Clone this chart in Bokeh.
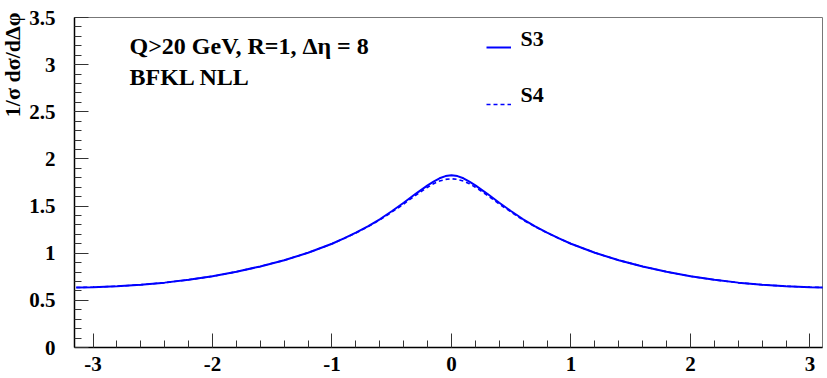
import math
from bokeh.plotting import figure
from bokeh.models import FixedTicker, Label, Legend, LegendItem, Range1d
from bokeh.embed import file_html
from bokeh.resources import INLINE

# ---- data ----
dphi = [-3.14, -3.0, -2.8, -2.6, -2.4, -2.2, -2.0, -1.8, -1.6, -1.4, -1.2, -1.0, -0.9, -0.8,
        -0.7, -0.6, -0.5, -0.4, -0.3, -0.2, -0.15, -0.1, -0.05, 0.0, 0.05, 0.1, 0.15, 0.2,
        0.3, 0.4, 0.5, 0.6, 0.7, 0.8, 0.9, 1.0, 1.2, 1.4, 1.6, 1.8, 2.0, 2.2, 2.4, 2.6,
        2.8, 3.0, 3.14]
s3 = [0.636, 0.640, 0.650, 0.665, 0.688, 0.718, 0.755, 0.803, 0.860, 0.925, 1.005, 1.100, 1.157, 1.218,
      1.285, 1.360, 1.445, 1.535, 1.630, 1.720, 1.760, 1.795, 1.818, 1.827, 1.818, 1.795, 1.760, 1.720,
      1.630, 1.535, 1.445, 1.360, 1.285, 1.218, 1.157, 1.100, 1.005, 0.925, 0.860, 0.803, 0.755, 0.718,
      0.688, 0.665, 0.650, 0.640, 0.636]
s4 = [0.636, 0.640, 0.650, 0.665, 0.688, 0.718, 0.755, 0.803, 0.860, 0.925, 1.005, 1.100, 1.156, 1.215,
      1.280, 1.352, 1.435, 1.522, 1.615, 1.700, 1.737, 1.765, 1.783, 1.790, 1.783, 1.765, 1.737, 1.700,
      1.615, 1.522, 1.435, 1.352, 1.280, 1.215, 1.156, 1.100, 1.005, 0.925, 0.860, 0.803, 0.755, 0.718,
      0.688, 0.665, 0.650, 0.640, 0.636]
series_names = ["S3", "S4"]

x_major = [-3, -2, -1, 0, 1, 2, 3]
x_labels = ["-3", "-2", "-1", "0", "1", "2", "3"]
x_minor = [round(-3.0 + 0.2 * i, 1) for i in range(31)]
y_major = [0, 0.5, 1, 1.5, 2, 2.5, 3, 3.5]
y_minor = [round(0.1 * i, 1) for i in range(36)]

title_line1 = "Q>20 GeV, R=1, \u0394\u03b7 = 8"
title_line2 = "BFKL NLL"
ylabel = "1/\u03c3 d\u03c3/d\u0394\u03c6"

FONT = "Liberation Serif"

p = figure(width=827, height=378, output_backend="svg", toolbar_location=None,
           x_range=Range1d(-3.155, 3.105), y_range=Range1d(0, 3.5),
           min_border_left=74, min_border_right=5, min_border_top=17, min_border_bottom=31)
p.grid.visible = False
p.outline_line_color = "#777777"
p.outline_line_width = 1
p.background_fill_color = "white"
p.border_fill_color = "white"

for ax, maj, mnr in ((p.xaxis[0], x_major, x_minor), (p.yaxis[0], y_major, y_minor)):
    ax.ticker = FixedTicker(ticks=maj, minor_ticks=mnr)
    ax.axis_line_color = "black"
    ax.axis_line_width = 1.5
    ax.major_tick_line_color = "#333333"
    ax.minor_tick_line_color = "#333333"
    ax.major_tick_in = 14
    ax.major_tick_out = 0
    ax.minor_tick_in = 7
    ax.minor_tick_out = 0
    ax.major_label_text_font = FONT
    ax.major_label_text_font_style = "bold"
    ax.major_label_text_font_size = "21px"
    ax.major_label_text_color = "black"

p.xaxis[0].major_label_overrides = {t: s for t, s in zip(x_major, x_labels)}
p.xaxis[0].major_label_standoff = 9
p.yaxis[0].major_label_standoff = 19

r3 = p.line(dphi, s3, line_color="#0000ff", line_width=2)
r4 = p.line(dphi, s4, line_color="#0000ff", line_width=1.6, line_dash="4 3")

# legend samples (lines) + legend texts placed like ROOT (text sitting on the sample line)
legend = Legend(items=[LegendItem(label="", renderers=[r3]),
                       LegendItem(label="", renderers=[r4])],
                location=(412, 233), orientation="vertical",
                glyph_width=25, glyph_height=20, label_height=20, spacing=37,
                label_standoff=0, label_width=0, padding=0, margin=0,
                border_line_color=None, background_fill_alpha=0,
                label_text_font_size="1px")
p.add_layout(legend)
for name, ypos in zip(series_names, (309, 253)):
    p.add_layout(Label(x=446, y=ypos, x_units="screen", y_units="screen", text=name,
                       text_font=FONT, text_font_style="bold", text_font_size="22px",
                       text_color="black", text_baseline="middle"))

p.add_layout(Label(x=55, y=302, x_units="screen", y_units="screen", text=title_line1,
                   text_font=FONT, text_font_style="bold", text_font_size="24px",
                   text_color="black", text_baseline="middle"))
p.add_layout(Label(x=55, y=271, x_units="screen", y_units="screen", text=title_line2,
                   text_font=FONT, text_font_style="bold", text_font_size="24px",
                   text_color="black", text_baseline="middle"))
p.add_layout(Label(x=12, y=12, x_units="canvas", y_units="canvas", text=ylabel,
                   angle=math.pi / 2, text_align="right", text_baseline="middle",
                   text_color="black",
                   text_font=FONT, text_font_style="bold", text_font_size="22px"), "left")

open("out.html", "w").write(file_html(p, INLINE))
